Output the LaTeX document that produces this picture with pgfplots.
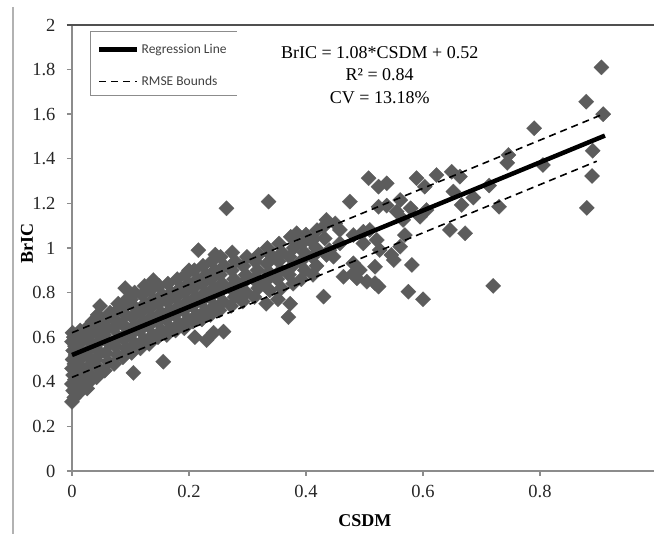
\documentclass[border=0pt]{standalone}
\usepackage{pgfplots}
\pgfplotsset{compat=1.18}
\usepackage{pgfplotstable}
\usepackage{fontspec}
\setmainfont{Liberation Serif}
\newfontfamily\carlito{Carlito}
\definecolor{mk}{RGB}{92,92,92}
\definecolor{axgray}{RGB}{140,140,140}
\definecolor{topline}{RGB}{80,80,80}

\pgfplotstableread{
x y
0 0.31
0.004 0.33
0.002 0.36
0.006 0.35
0 0.39
0.005 0.41
0.002 0.43
0.007 0.45
0 0.46
0.004 0.48
0.001 0.50
0.006 0.52
0.002 0.54
0.005 0.56
0 0.58
0.003 0.60
0.001 0.62
0.008 0.38
0.008 0.59
0.012 0.35
0.015 0.39
0.011 0.43
0.018 0.46
0.013 0.50
0.016 0.53
0.012 0.57
0.019 0.60
0.014 0.63
0.02 0.41
0.026 0.37
0.03 0.40
0.028 0.44
0.033 0.48
0.025 0.52
0.031 0.55
0.027 0.59
0.034 0.62
0.029 0.65
0.035 0.67
0.042 0.42
0.046 0.46
0.04 0.50
0.048 0.53
0.043 0.57
0.05 0.60
0.041 0.64
0.047 0.67
0.044 0.70
0.048 0.74
0.056 0.45
0.062 0.49
0.058 0.53
0.064 0.57
0.055 0.61
0.061 0.64
0.059 0.68
0.065 0.71
0.072 0.48
0.078 0.52
0.074 0.56
0.08 0.60
0.071 0.64
0.077 0.67
0.073 0.71
0.079 0.75
0.087 0.51
0.093 0.55
0.089 0.59
0.095 0.62
0.086 0.66
0.092 0.70
0.088 0.74
0.091 0.82
0.094 0.77
0.105 0.44
0.102 0.53
0.108 0.57
0.1 0.61
0.106 0.65
0.103 0.69
0.109 0.73
0.101 0.77
0.107 0.80
0.117 0.55
0.123 0.59
0.116 0.63
0.121 0.67
0.118 0.71
0.125 0.75
0.12 0.79
0.124 0.83
0.132 0.57
0.138 0.61
0.131 0.65
0.136 0.69
0.133 0.73
0.139 0.77
0.134 0.81
0.139 0.856
0.156 0.49
0.147 0.60
0.153 0.63
0.146 0.67
0.152 0.71
0.148 0.75
0.154 0.79
0.149 0.83
0.162 0.61
0.168 0.64
0.161 0.68
0.167 0.72
0.163 0.76
0.169 0.80
0.164 0.84
0.177 0.63
0.183 0.66
0.176 0.70
0.182 0.74
0.178 0.78
0.185 0.82
0.18 0.86
0.192 0.64
0.198 0.68
0.191 0.72
0.197 0.76
0.193 0.80
0.199 0.84
0.194 0.88
0.2 0.90
0.21 0.60
0.207 0.67
0.213 0.70
0.206 0.74
0.212 0.78
0.208 0.82
0.214 0.86
0.209 0.90
0.216 0.99
0.23 0.587
0.222 0.68
0.228 0.72
0.221 0.76
0.227 0.80
0.223 0.84
0.229 0.88
0.224 0.92
0.242 0.62
0.237 0.70
0.243 0.74
0.236 0.78
0.242 0.82
0.238 0.86
0.244 0.90
0.239 0.94
0.245 0.97
0.259 0.625
0.252 0.72
0.258 0.76
0.251 0.80
0.257 0.84
0.253 0.88
0.26 0.92
0.254 0.96
0.264 1.178
0.272 0.74
0.278 0.78
0.271 0.82
0.277 0.86
0.273 0.90
0.279 0.94
0.274 0.98
0.292 0.76
0.298 0.80
0.291 0.84
0.297 0.88
0.293 0.92
0.299 0.96
0.287 0.81
0.312 0.78
0.318 0.82
0.311 0.86
0.317 0.90
0.313 0.94
0.319 0.97
0.332 0.75
0.338 0.81
0.331 0.85
0.337 0.89
0.333 0.93
0.339 0.97
0.334 1.00
0.336 1.208
0.352 0.77
0.358 0.82
0.351 0.86
0.357 0.90
0.353 0.94
0.359 0.98
0.354 1.02
0.37 0.69
0.373 0.75
0.378 0.84
0.371 0.88
0.377 0.92
0.372 0.96
0.379 1.00
0.374 1.05
0.392 0.86
0.398 0.90
0.391 0.94
0.397 0.98
0.393 1.02
0.4 1.06
0.384 1.066
0.407 1.036
0.412 0.88
0.418 0.92
0.411 0.96
0.417 1.00
0.413 1.04
0.419 1.08
0.43 1.096
0.43 0.782
0.44 0.99
0.432 1.043
0.435 1.126
0.435 0.969
0.447 0.961
0.45 1.11
0.458 1.081
0.458 1.021
0.464 0.871
0.475 1.208
0.481 1.058
0.481 0.931
0.481 0.886
0.487 0.864
0.492 0.901
0.498 1.073
0.498 1.021
0.504 0.849
0.507 1.313
0.509 1.081
0.518 0.842
0.518 0.916
0.521 1.036
0.524 1.275
0.524 1.185
0.524 0.827
0.526 0.991
0.538 1.29
0.538 1.19
0.546 0.969
0.55 0.946
0.555 1.163
0.561 1.215
0.561 1.006
0.566 1.126
0.569 1.058
0.575 0.804
0.579 1.178
0.581 0.924
0.589 1.313
0.595 1.14
0.6 0.77
0.603 1.275
0.606 1.17
0.623 1.327
0.646 1.081
0.649 1.342
0.652 1.253
0.663 1.32
0.666 1.193
0.672 1.066
0.686 1.226
0.713 1.28
0.72 0.83
0.73 1.185
0.744 1.382
0.746 1.417
0.79 1.537
0.805 1.372
0.879 1.656
0.88 1.18
0.889 1.323
0.89 1.436
0.905 1.81
0.908 1.60
}\scatterdata

\begin{document}
\begin{tikzpicture}[x=1pt,y=1pt]
\useasboundingbox (0,0) rectangle (654,534);
\draw[color=black!30, line width=1.2pt] (13,527) -- (13,0);
\begin{axis}[
  at={(72pt,63pt)}, anchor=south west,
  scale only axis, width=582pt, height=446pt,
  xmin=0, xmax=0.99487, ymin=0, ymax=2,
  axis x line*=bottom, axis y line*=left,
  axis line style={color=axgray, line width=2.4pt, -},
  xtick={0,0.2,0.4,0.6,0.8},
  xticklabels={0,0.2,0.4,0.6,0.8},
  ytick={0,0.2,0.4,0.6,0.8,1,1.2,1.4,1.6,1.8,2},
  yticklabels={0,0.2,0.4,0.6,0.8,1,1.2,1.4,1.6,1.8,2},
  tick align=outside,
  major tick length=5pt,
  tick style={color=axgray, line width=1.4pt},
  tick label style={font=\rmfamily\fontsize{18.5}{20}\selectfont, color=black!85},
  xticklabel style={yshift=-6pt},
  yticklabel style={xshift=-8pt},
  xlabel={\textbf{CSDM}},
  ylabel={\textbf{BrIC}},
  label style={font=\rmfamily\fontsize{18}{20}\selectfont},
  xlabel style={at={(axis description cs:0.503,-0.112)}, anchor=center},
  ylabel style={at={(axis description cs:-0.0773,0.511)}, anchor=center, rotate=0},
  clip=false,
  clip marker paths=true,
  legend style={at={(axis description cs:0.0326,0.982)}, anchor=north west,
    draw=none, fill=none, font=\carlito\fontsize{13.5}{15}\selectfont, text=black!75,
    row sep=17pt, inner xsep=6pt, inner ysep=9pt},
  legend cell align=left,
  legend image code/.code={\draw[#1] (0pt,0pt) -- (38pt,0pt);},
]
\addplot[only marks, mark=square*, mark size=5.4pt,
  mark options={rotate=45, fill=mk, draw=mk, line width=0.2pt}, forget plot]
  table[x=x,y=y] {\scatterdata};
\addplot[black, line width=4.5pt] coordinates {(0,0.52) (0.911,1.504)};
\addlegendentry{Regression Line}
\addplot[black, line width=1.6pt, dash pattern=on 7pt off 5pt] coordinates {(0,0.62) (0.905,1.597)};
\addlegendentry{RMSE Bounds}
\addplot[black, line width=1.6pt, dash pattern=on 7pt off 5pt, forget plot] coordinates {(0,0.42) (0.897,1.389)};
\draw[topline, line width=1.8pt] (axis description cs:-0.0086,1) -- (axis description cs:1,1);
\draw[black!45, line width=1pt] (axis description cs:0.2835,0.9865) -- (axis description cs:0.0326,0.9865) -- (axis description cs:0.0326,0.8408) -- (axis description cs:0.2835,0.8408);
\node[align=center, font=\rmfamily\fontsize{18}{22.5}\selectfont, anchor=center] at (axis cs:0.526,1.776)
  {BrIC = 1.08*CSDM + 0.52\\ R² = 0.84\\ CV = 13.18\%};
\end{axis}
\end{tikzpicture}
\end{document}
